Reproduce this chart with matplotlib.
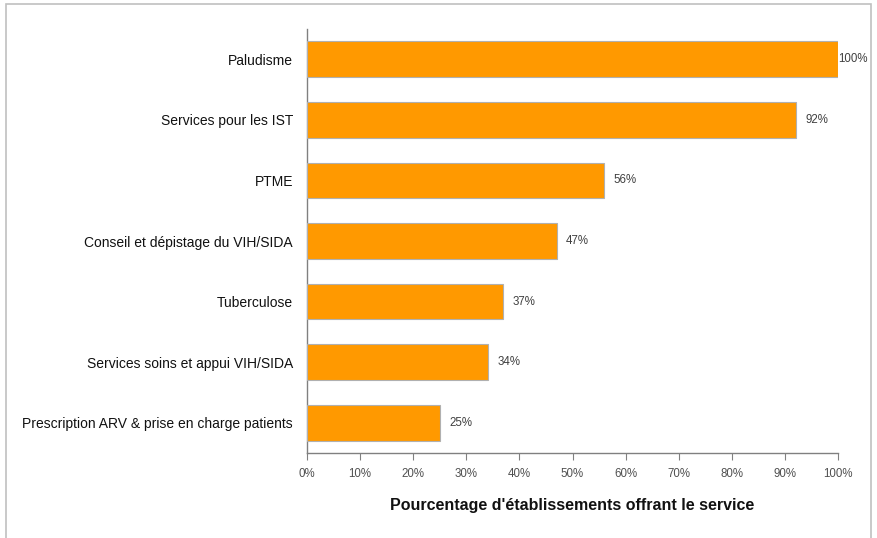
import matplotlib as mpl
mpl.use('Agg')
import matplotlib.pyplot as plt
from matplotlib.patches import Rectangle

categories = ['Paludisme', 'Services pour les IST', 'PTME',
              'Conseil et dépistage du VIH/SIDA', 'Tuberculose',
              'Services soins et appui VIH/SIDA',
              'Prescription ARV & prise en charge patients']
values = [100, 92, 56, 47, 37, 34, 25]
xticks = [0, 10, 20, 30, 40, 50, 60, 70, 80, 90, 100]

plt.rcParams['font.family'] = ['Liberation Sans', 'DejaVu Sans']

fig = plt.figure(figsize=(8.78, 5.38), dpi=100)
ax = fig.add_axes([307/878, 1 - 453/538, 531/878, (453 - 29)/538])

# outer frame around the chart
fig.patches.append(Rectangle((6/878, -0.05), 865/878, 1.05 - 4/538,
                             transform=fig.transFigure, fill=False,
                             edgecolor='#c0c0c0', linewidth=1.2))

pos = list(range(len(categories)))
ax.barh(pos, values, height=0.59, color='#ff9900', edgecolor='#b0b0b0',
        linewidth=0.8, zorder=3)

for p, v in zip(pos, values):
    gap = 0.1 if v >= 100 else 1.8
    ax.text(v + gap, p, '%d%%' % v, va='center', ha='left',
            fontsize=8.3, color='#404040')

ax.set_ylim(len(categories) - 0.5, -0.5)
ax.set_xlim(0, 100)
ax.set_yticks(pos)
ax.set_yticklabels(categories, fontsize=10, color='#111111')
ax.tick_params(axis='y', which='major', length=0, pad=10)

ax.set_xticks(xticks)
ax.set_xticklabels(['%d%%' % t for t in xticks], fontsize=8.3, color='#505050')
ax.tick_params(axis='x', length=5, color='#808080', direction='out', pad=6)

for s in ['top', 'right']:
    ax.spines[s].set_visible(False)
for s in ['left', 'bottom']:
    ax.spines[s].set_color('#808080')
    ax.spines[s].set_linewidth(1.0)

ax.set_xlabel("Pourcentage d'établissements offrant le service",
              fontsize=11.5, fontweight='bold', color='#111111', labelpad=13)

fig.savefig('out.png', dpi=100)
